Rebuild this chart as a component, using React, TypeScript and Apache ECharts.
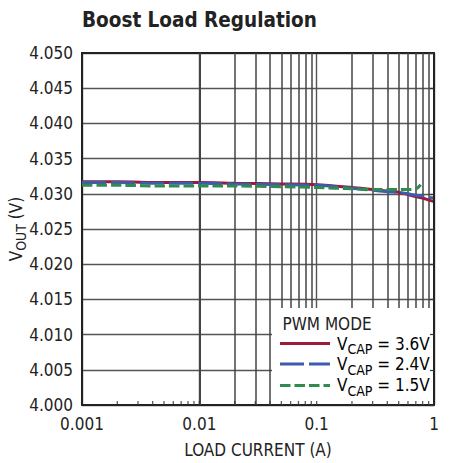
import React, { useEffect, useRef } from "react";
import * as echarts from "echarts";

const FONT = "'DejaVu Sans Condensed', 'Liberation Sans Narrow', Arial, sans-serif";

const currents = [0.001, 0.002, 0.005, 0.01, 0.02, 0.05, 0.1, 0.2, 0.3, 0.4, 0.5, 0.6, 0.7, 0.8, 0.9, 1];
const vcap36 = [4.0317, 4.0317, 4.0316, 4.0316, 4.0315, 4.0314, 4.0313, 4.0309, 4.0306, 4.0304, 4.0302, 4.0299, 4.0296, 4.0294, 4.0291, 4.0289];
const vcap24 = [4.0316, 4.0316, 4.0315, 4.0315, 4.0314, 4.0313, 4.0312, 4.0308, 4.0305, 4.0303, 4.0302, 4.0300, 4.0298, 4.0297, 4.0295, 4.0294];
const currentsGreen = [0.001, 0.002, 0.005, 0.01, 0.02, 0.05, 0.1, 0.2, 0.3, 0.4, 0.5, 0.6, 0.7, 0.77];
const vcap15 = [4.0312, 4.0312, 4.0311, 4.0311, 4.0311, 4.0310, 4.0309, 4.0307, 4.0306, 4.0306, 4.0306, 4.0306, 4.0307, 4.0313];

const xTickLabels = ["0.001", "0.01", "0.1", "1"];
const minorGridX = [
  0.002, 0.003, 0.004, 0.005, 0.006, 0.007, 0.008, 0.009,
  0.02, 0.03, 0.04, 0.05, 0.06, 0.07, 0.08, 0.09,
  0.2, 0.3, 0.4, 0.5, 0.6, 0.7, 0.8, 0.9,
];
const tickStubX = [...minorGridX, 0.01, 0.1];

const legendNames = ["3.6V", "2.4V", "1.5V"];
const colors = ["#9b1b38", "#3d5cae", "#2f8c4e"];

export default function App() {
  const ref = useRef<HTMLDivElement>(null);
  useEffect(() => {
    document.body.style.margin = "0";
    if (!ref.current) return;
    const chart = echarts.init(ref.current, null, { renderer: "svg" });
    const gridColor = "#555";
    const axisColor = "#222";
    const richV = {
      v: { fontFamily: FONT, fontSize: 17, color: "#222", lineHeight: 19, verticalAlign: "top" },
      s: { fontFamily: FONT, fontSize: 14, color: "#222", lineHeight: 15, padding: [7, 0, 0, 0], verticalAlign: "top" },
    };
    const legendRows = [344.5, 365.3, 386];
    const lineRows = [343.5, 364, 385.5];
    const dashes: any[] = [null, [24, 5], [10.5, 4]];
    const option: any = {
      animation: false,
      title: {
        text: "Boost Load Regulation",
        left: 77,
        top: 4,
        textStyle: { fontFamily: FONT, fontWeight: "bold", fontSize: 20.5, color: "#222" },
      },
      grid: { left: 82, right: 24, top: 53, bottom: 58, outerBoundsMode: "none", containLabel: false },
      xAxis: [
        {
          type: "log",
          logBase: 10,
          min: 0.001,
          max: 1,
          position: "bottom",
          name: "LOAD CURRENT (A)",
          nameLocation: "middle",
          nameGap: 36,
          nameMoveOverlap: false,
          nameTextStyle: { fontFamily: FONT, fontSize: 17, color: "#222" },
          axisLine: { show: true, lineStyle: { color: axisColor, width: 2 } },
          axisTick: { show: false },
          splitLine: { show: true, lineStyle: { color: gridColor, width: 1.4 } },
          minorTick: { show: false },
          axisLabel: {
            margin: 10,
            fontFamily: FONT,
            fontSize: 17,
            color: "#222",
            formatter: (v: number) => xTickLabels[Math.round(Math.log10(v)) + 3] ?? "",
          },
        },
        {
          type: "log",
          logBase: 10,
          min: 0.001,
          max: 1,
          position: "top",
          axisLine: { show: true, lineStyle: { color: axisColor, width: 2 } },
          axisTick: { show: false },
          axisLabel: { show: false },
          splitLine: { show: false },
        },
      ],
      yAxis: [
        {
          type: "value",
          min: 4.0,
          max: 4.05,
          interval: 0.005,
          position: "left",
          name: "{v|V}{s|OUT}{v| (V)}",
          nameLocation: "middle",
          nameGap: 56,
          nameRotate: 90,
          nameMoveOverlap: false,
          nameTextStyle: { rich: richV },
          axisLine: { show: true, lineStyle: { color: axisColor, width: 2 } },
          axisTick: { show: false },
          splitLine: { show: true, lineStyle: { color: gridColor, width: 1.4 } },
          axisLabel: {
            margin: 9,
            fontFamily: FONT,
            fontSize: 17,
            color: "#222",
            formatter: (v: number) => v.toFixed(3),
          },
        },
        {
          type: "value",
          min: 4.0,
          max: 4.05,
          interval: 0.005,
          position: "right",
          z: 20,
          axisLine: { show: true, lineStyle: { color: axisColor, width: 2 } },
          axisTick: { show: true, inside: true, length: 4, lineStyle: { color: "#333", width: 1.2 } },
          axisLabel: { show: false },
          splitLine: { show: false },
        },
      ],
      series: [
        {
          name: "VCAP = 3.6V",
          type: "line",
          data: currents.map((c, i) => [c, vcap36[i]]),
          showSymbol: false,
          smooth: 0.3,
          lineStyle: { color: colors[0], width: 3 },
          z: 4,
          markLine: {
            silent: true,
            symbol: "none",
            label: { show: false },
            lineStyle: { color: "#444", width: 1.5, type: "solid" },
            data: minorGridX.map((x) => ({ xAxis: x })),
            z: 1,
          },
        },
        {
          name: "VCAP = 2.4V",
          type: "line",
          data: currents.map((c, i) => [c, vcap24[i]]),
          showSymbol: false,
          smooth: 0.3,
          lineStyle: { color: colors[1], width: 3, type: [24, 5] },
          z: 5,
        },
        {
          name: "VCAP = 1.5V",
          type: "line",
          data: currentsGreen.map((c, i) => [c, vcap15[i]]),
          showSymbol: false,
          smooth: 0.3,
          lineStyle: { color: colors[2], width: 3, type: [10.5, 4] },
          z: 6,
        },
        {
          name: "ticks",
          type: "scatter",
          silent: true,
          z: 20,
          symbol: "rect",
          symbolSize: [1.3, 4],
          symbolOffset: [0, -2],
          itemStyle: { color: "#333" },
          data: tickStubX.map((x) => [x, 4.0]),
        },
      ],
      graphic: [
        {
          type: "rect",
          z: 10,
          silent: true,
          shape: { x: 272, y: 308, width: 161, height: 96 },
          style: { fill: "#fff" },
        },
        {
          type: "text",
          z: 11,
          x: 282.5,
          y: 323.5,
          style: {
            text: "PWM MODE",
            fontFamily: FONT,
            fontSize: 17,
            fill: "#222",
            verticalAlign: "middle",
          },
        },
        ...legendNames.map((n, i) => ({
          type: "line",
          z: 11,
          shape: { x1: 280, y1: lineRows[i], x2: 330, y2: lineRows[i] },
          style: { stroke: colors[i], lineWidth: 3, lineDash: dashes[i] },
        })),
        ...legendNames.map((n, i) => ({
          type: "text",
          z: 11,
          x: 337,
          y: legendRows[i],
          style: {
            text: `{v|V}{s|CAP}{v| = ${n}}`,
            rich: richV,
            verticalAlign: "middle",
          },
        })),
      ],
    };
    chart.setOption(option);
    return () => chart.dispose();
  }, []);
  return <div ref={ref} style={{ width: 458, height: 463 }} />;
}
